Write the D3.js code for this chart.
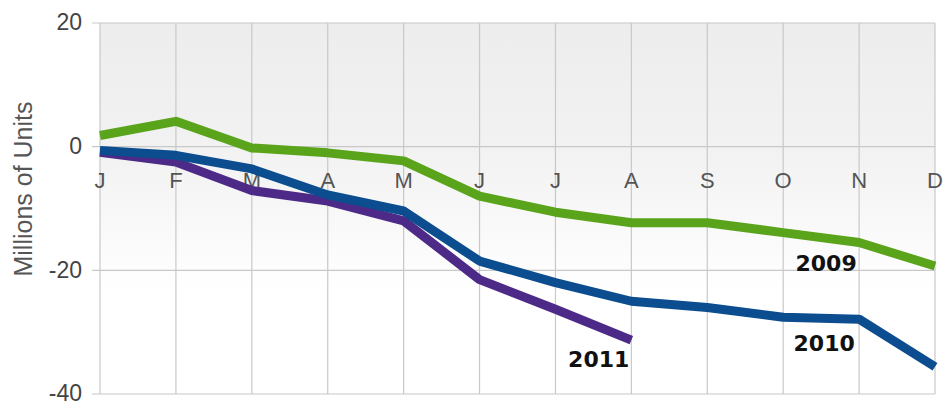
<!DOCTYPE html>
<html><head><meta charset="utf-8">
<script src="https://cdn.jsdelivr.net/npm/d3@7"></script>
<style>body{margin:0;background:#fff;}svg{display:block;font-family:"Liberation Sans",Arial,sans-serif;}</style>
</head><body>
<svg id="c" width="945" height="405"></svg>
<script>
const months = ["J","F","M","A","M","J","J","A","S","O","N","D"];
const yTicks = [20, 0, -20, -40];
const s2009 = [1.8, 4.1, -0.2, -1.0, -2.3, -8.0, -10.6, -12.3, -12.3, -13.9, -15.5, -19.3];
const s2010 = [-0.6, -1.4, -3.6, -7.8, -10.4, -18.5, -22.0, -25.0, -26.0, -27.6, -27.9, -35.6];
const s2011 = [-0.9, -2.5, -7.1, -8.8, -12.0, -21.5, -26.3, -31.3];
const seriesNames = ["2009", "2010", "2011"];
const colors = ["#5aa41b", "#0b4d8e", "#4d2a87"];
const labelPos = [[9.565, -20.1], [9.54, -33.0], [6.57, -35.6]];

const svg = d3.select("#c");
const x = d3.scalePoint().domain(d3.range(12)).range([100, 935]);
const y = d3.scaleLinear().domain([-40, 20]).range([394, 23]);

const defs = svg.append("defs");
const g = defs.append("linearGradient").attr("id","bg").attr("x1",0).attr("y1",0).attr("x2",0).attr("y2",1);
g.append("stop").attr("offset","0%").attr("stop-color","#ededed");
g.append("stop").attr("offset","35%").attr("stop-color","#f2f2f2");
g.append("stop").attr("offset","72%").attr("stop-color","#ffffff");
g.append("stop").attr("offset","100%").attr("stop-color","#ffffff");

svg.append("rect").attr("x",100).attr("y",y(20)).attr("width",835).attr("height",y(-40)-y(20)).attr("fill","url(#bg)");

// vertical grid
svg.append("g").selectAll("line").data(d3.range(12)).join("line")
  .attr("x1", d=>x(d)).attr("x2", d=>x(d)).attr("y1", y(20)).attr("y2", y(-40))
  .attr("stroke","#c8c8c8").attr("stroke-width",1.2);

// horizontal grid
svg.append("g").selectAll("line").data(yTicks).join("line")
  .attr("x1", 92).attr("x2", 935).attr("y1", d=>y(d)).attr("y2", d=>y(d))
  .attr("stroke","#c8c8c8").attr("stroke-width",1.2);

// y axis labels
const yAxis = d3.axisLeft(y).tickValues(yTicks).tickSize(8).tickPadding(10).tickFormat(d=>String(d));
const ya = svg.append("g").attr("transform","translate(100,0)").call(yAxis);
ya.select(".domain").remove();
ya.selectAll(".tick line").remove();
ya.selectAll(".tick text").attr("fill","#444").attr("font-size",23).attr("dy","0.3em")
  .attr("font-family","Liberation Sans, Arial, sans-serif");

// month labels
svg.append("g").selectAll("text").data(d3.range(12)).join("text")
  .attr("x", d=>x(d)).attr("y", y(0)+41).attr("text-anchor","middle")
  .attr("fill","#555").attr("font-size",22).text(d=>months[d]);

// y title
svg.append("text").attr("transform","translate(32,189) rotate(-90)").attr("text-anchor","middle")
  .attr("fill","#555").attr("font-size",25).text("Millions of Units");

const line = d3.line().x((d,i)=>x(i)).y(d=>y(d));
const data = [s2009, s2011, s2010];
const cols = [colors[0], colors[2], colors[1]];
data.forEach((s,k)=>{
  svg.append("path").attr("d", line(s)).attr("fill","none").attr("stroke",cols[k])
    .attr("stroke-width",9).attr("stroke-linejoin","round");
});
seriesNames.forEach((n,k)=>{
  svg.append("text").attr("x", x(0) + (x(1)-x(0))*labelPos[k][0]).attr("y", y(labelPos[k][1]))
    .attr("text-anchor","middle").attr("font-weight","bold").attr("font-size",22)
    .attr("font-family","DejaVu Sans, sans-serif").attr("fill","#111").text(n);
});
</script>
</body></html>
